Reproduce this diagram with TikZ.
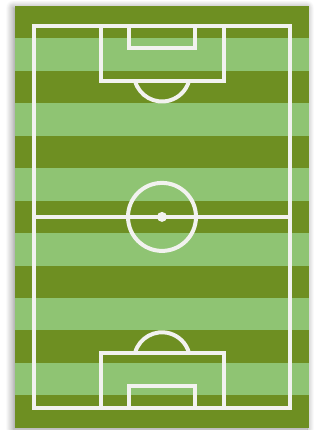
\documentclass[tikz,border=0pt]{standalone}
\usetikzlibrary{shadows.blur}
\definecolor{grassdark}{HTML}{6E8F22}
\definecolor{grasslight}{HTML}{8FC473}
\definecolor{chalk}{HTML}{F2F2EF}

\begin{document}
\begin{tikzpicture}[x=1pt, y=-1pt,
  turf/.style={fill=grassdark, blur shadow={shadow xshift=-2pt, shadow yshift=-1.5pt, shadow blur radius=7pt, shadow blur steps=10, shadow opacity=45}},
  pitchline/.style={draw=chalk, line width=4pt}
]
  \useasboundingbox (0,0) rectangle (322,430);
  % grass and stripes
  \path[turf] (15,6) rectangle (309,427.7);
  \foreach \i in {1,3,...,11}
    \fill[grasslight] (15,{6+\i*32.44}) rectangle (309,{6+(\i+1)*32.44});
  \coordinate (centre) at (162,216.9);
  \coordinate (topspot) at (162,73.5);
  \coordinate (botspot) at (162,360.3);
  % outer lines and halfway line
  \draw[pitchline] (33.5,25.8) rectangle (290.3,408);
  \draw[pitchline] (33.5,216.9) -- (290.3,216.9);
  \draw[pitchline] (centre) circle[radius=34];
  \fill[chalk] (centre) circle[radius=5];
  % top end
  \draw[pitchline] (topspot) ++(163.9:28) arc[start angle=163.9, end angle=16.1, radius=28];
  \draw[pitchline] (100.5,25.8) rectangle (223.5,81.2);
  \draw[pitchline] (129,25.8) rectangle (194.8,48.5);
  % bottom end
  \draw[pitchline] (botspot) ++(196.1:28) arc[start angle=196.1, end angle=343.9, radius=28];
  \draw[pitchline] (100.5,353) rectangle (223.5,408);
  \draw[pitchline] (129,385.7) rectangle (194.8,408);
\end{tikzpicture}
\end{document}
